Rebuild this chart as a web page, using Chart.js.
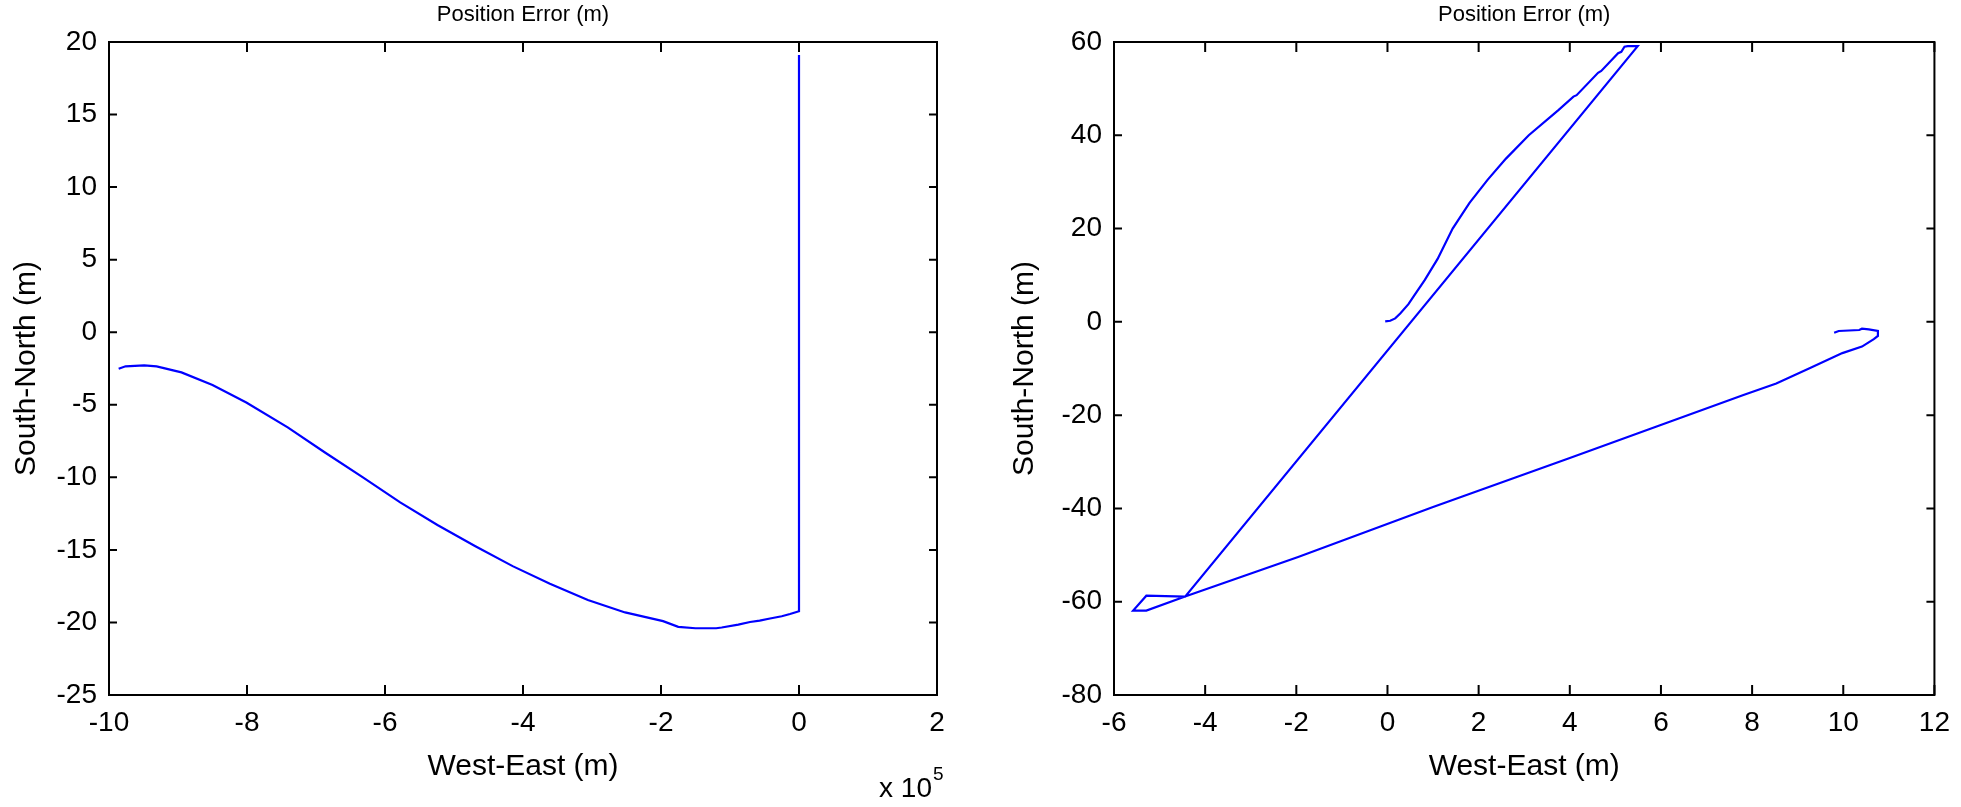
<!DOCTYPE html>
<html>
<head>
<meta charset="utf-8">
<script src="https://cdn.jsdelivr.net/npm/chart.js@4.4.1/dist/chart.umd.min.js"></script>
<style>
  body { margin: 0; background: #fff; }
  canvas { position: absolute; top: 0; }
  #leftChart { left: 0; }
  #rightChart { left: 980px; }
</style>
</head>
<body>
<canvas id="leftChart" width="980" height="807"></canvas>
<canvas id="rightChart" width="981" height="807"></canvas>
<script>
// left panel: west-east is in units of 1e5 m (axis shows "x 10^5")
const leftWestEast = [-9.86, -9.76, -9.49, -9.31, -8.95, -8.50, -8.01, -7.41, -6.87, -6.32, -5.78, -5.24, -4.69, -4.15, -3.61, -3.06, -2.52, -1.97, -1.75, -1.50, -1.20, -1.12, -0.88, -0.71, -0.57, -0.42, -0.25, -0.13, 0, 0];
const leftSouthNorth = [-2.52, -2.35, -2.28, -2.35, -2.77, -3.64, -4.84, -6.56, -8.29, -10.0, -11.73, -13.28, -14.75, -16.12, -17.33, -18.45, -19.31, -19.91, -20.3, -20.4, -20.4, -20.35, -20.15, -19.97, -19.87, -19.73, -19.57, -19.42, -19.23, 19.1];

// right panel (m)
const rightWestEast = [-0.05, 0.06, 0.17, 0.28, 0.46, 0.57, 0.82, 1.1, 1.43, 1.8, 2.2, 2.6, 3.1, 3.75, 4.08, 4.15, 4.62, 4.69, 5.06, 5.13, 5.2, 5.27, 5.49, -4.44, -5.29, -5.58, -5.29, -4.44, -1.96, 1.0, 4.0, 7.81, 8.53, 9.26, 9.98, 10.41, 10.67, 10.76, 10.76, 10.56, 10.41, 10.35, 9.9, 9.8];
const rightSouthNorth = [0.1, 0.24, 0.74, 1.8, 3.8, 5.4, 9.0, 13.5, 20, 25.5, 30.5, 35, 40, 45.4, 48.3, 48.6, 53.4, 53.8, 57.6, 57.9, 59.0, 59.1, 59.1, -58.9, -58.7, -61.9, -61.9, -58.9, -50.4, -39.7, -29.2, -15.7, -13.2, -9.97, -6.7, -5.3, -3.7, -3.0, -1.96, -1.6, -1.47, -1.75, -1.96, -2.33];

const leftXRange = [-10, 2];
const leftYRange = [-25, 20];
const rightXRange = [-6, 12];
const rightYRange = [-80, 60];

Chart.defaults.font.family = '"Liberation Sans", Arial, sans-serif';
Chart.defaults.color = '#000';

// MATLAB-like box with inward ticks on all four sides
const boxPlugin = {
  id: 'box',
  afterDraw(chart) {
    const { ctx, chartArea: a, scales } = chart;
    ctx.save();
    ctx.strokeStyle = '#000';
    ctx.lineWidth = 2;
    ctx.strokeRect(a.left, a.top, a.right - a.left, a.bottom - a.top);
    ctx.beginPath();
    scales.x.ticks.forEach(t => {
      const px = scales.x.getPixelForValue(t.value);
      ctx.moveTo(px, a.bottom); ctx.lineTo(px, a.bottom - 10);
      ctx.moveTo(px, a.top); ctx.lineTo(px, a.top + 10);
    });
    scales.y.ticks.forEach(t => {
      const py = scales.y.getPixelForValue(t.value);
      ctx.moveTo(a.left, py); ctx.lineTo(a.left + 8, py);
      ctx.moveTo(a.right, py); ctx.lineTo(a.right - 8, py);
    });
    ctx.stroke();

    const exp = chart.options.plugins.box && chart.options.plugins.box.exponent;
    if (exp) {
      ctx.fillStyle = '#000';
      ctx.textBaseline = 'alphabetic';
      ctx.textAlign = 'right';
      ctx.font = '28px "Liberation Sans", Arial, sans-serif';
      ctx.fillText('x 10', a.right - 5, 797);
      ctx.textAlign = 'left';
      ctx.font = '19px "Liberation Sans", Arial, sans-serif';
      ctx.fillText(exp, a.right - 4, 780);
    }
    ctx.restore();
  }
};

function makeChart(id, xs, ys, xRange, yRange, yStep, opts) {
  const points = xs.map((x, i) => ({ x: x, y: ys[i] }));
  return new Chart(document.getElementById(id), {
    type: 'scatter',
    data: {
      datasets: [{
        data: points,
        showLine: true,
        borderColor: '#0000ff',
        borderWidth: 2.2,
        pointRadius: 0,
        fill: false,
        tension: 0
      }]
    },
    options: {
      responsive: false,
      animation: false,
      layout: { padding: { left: 0, right: opts.padRight, top: 0, bottom: 0 } },
      plugins: {
        legend: { display: false },
        tooltip: { enabled: false },
        title: {
          display: true,
          text: 'Position Error (m)',
          fullSize: false,
          font: { size: 22, weight: 'normal' },
          color: '#000',
          padding: { top: 2, bottom: 13.6 }
        },
        box: { exponent: opts.exponent }
      },
      scales: {
        x: {
          type: 'linear',
          min: xRange[0],
          max: xRange[1],
          grid: { display: false, drawTicks: false },
          border: { display: false },
          ticks: { stepSize: 2, padding: 11, font: { size: 28 }, color: '#000' },
          title: { display: true, text: 'West-East (m)', font: { size: 30 }, color: '#000', padding: { top: 0, bottom: 22 } },
          afterFit(scale) { scale.height = 112; }
        },
        y: {
          type: 'linear',
          min: yRange[0],
          max: yRange[1],
          grid: { display: false, drawTicks: false },
          border: { display: false },
          ticks: { stepSize: yStep, padding: 12, font: { size: 28 }, color: '#000' },
          title: { display: true, text: 'South-North (m)', font: { size: 30 }, color: '#000', padding: { top: opts.yTitlePad, bottom: 0 } },
          afterFit(scale) { scale.width = opts.yWidth; }
        }
      }
    },
    plugins: [boxPlugin]
  });
}

makeChart('leftChart', leftWestEast, leftSouthNorth, leftXRange, leftYRange, 5,
  { padRight: 43, yWidth: 109, yTitlePad: 9, exponent: '5' });
makeChart('rightChart', rightWestEast, rightSouthNorth, rightXRange, rightYRange, 20,
  { padRight: 18, yWidth: 134, yTitlePad: 27, exponent: null });
</script>
</body>
</html>
